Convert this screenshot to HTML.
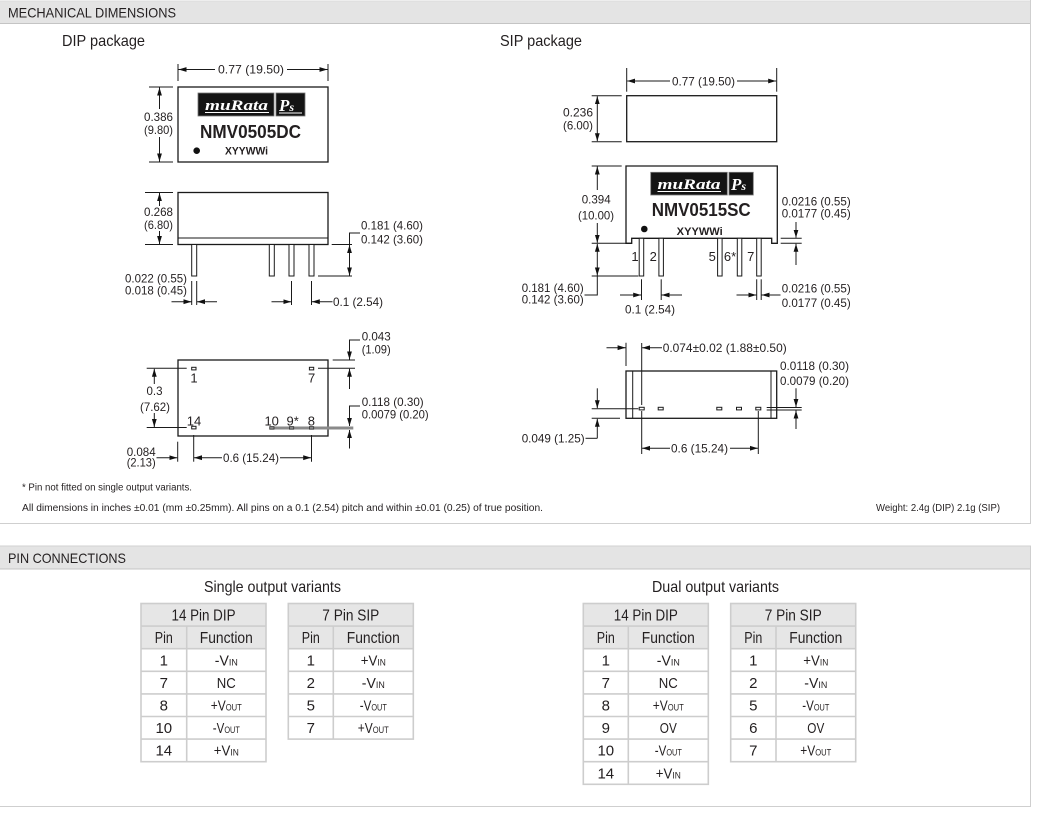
<!DOCTYPE html>
<html><head><meta charset="utf-8"><style>
html,body{margin:0;padding:0;background:#fff;}
svg{display:block;}
text{font-family:"Liberation Sans",Arial,sans-serif;fill:#231f20;}
</style></head><body>
<svg width="1053" height="815" viewBox="0 0 1053 815" xmlns="http://www.w3.org/2000/svg">
<defs>
<marker id="ar" viewBox="0 0 8 6" markerWidth="8" markerHeight="6" refX="8" refY="3" orient="auto" markerUnits="userSpaceOnUse"><path d="M0,0.6 L8,3 L0,5.4z" fill="#111" stroke="none"/></marker>
</defs>

<!-- SECTION 1 frame -->
<rect x="0" y="1" width="1030.5" height="22.5" fill="#e4e4e4"/>
<line x1="0" y1="23.5" x2="1031" y2="23.5" stroke="#c4c4c4" stroke-width="1"/>
<line x1="0" y1="1" x2="1031" y2="1" stroke="#dcdcdc" stroke-width="1"/>
<line x1="1030.5" y1="0" x2="1030.5" y2="524" stroke="#cfcfcf" stroke-width="1"/>
<line x1="0" y1="523.5" x2="1031" y2="523.5" stroke="#cfcfcf" stroke-width="1"/>
<text x="8" y="17.5" font-size="14" textLength="168" lengthAdjust="spacingAndGlyphs">MECHANICAL DIMENSIONS</text>
<text x="62" y="46" font-size="16" textLength="83" lengthAdjust="spacingAndGlyphs">DIP package</text>
<text x="500" y="46" font-size="16" textLength="82" lengthAdjust="spacingAndGlyphs">SIP package</text>

<!-- SECTION 2 frame -->
<rect x="0" y="546" width="1030.5" height="23" fill="#e4e4e4"/>
<line x1="0" y1="546" x2="1031" y2="546" stroke="#d2d2d2" stroke-width="1"/>
<line x1="0" y1="569" x2="1031" y2="569" stroke="#c4c4c4" stroke-width="1"/>
<line x1="1030.5" y1="546" x2="1030.5" y2="806.5" stroke="#cfcfcf" stroke-width="1"/>
<line x1="0" y1="806.5" x2="1031" y2="806.5" stroke="#cfcfcf" stroke-width="1"/>
<text x="8" y="563" font-size="14" textLength="118" lengthAdjust="spacingAndGlyphs">PIN CONNECTIONS</text>
<text x="204" y="592" font-size="16" textLength="137" lengthAdjust="spacingAndGlyphs">Single output variants</text>
<text x="652" y="592" font-size="16" textLength="127" lengthAdjust="spacingAndGlyphs">Dual output variants</text>

<!-- ========== DRAWING LINES ========== -->
<g stroke="#1a1a1a" stroke-width="1" fill="none">
<!-- DIP top view -->
<rect x="178" y="87" width="150" height="75" stroke-width="1.3"/>
<line x1="178" y1="64" x2="178" y2="81"/>
<line x1="328" y1="64" x2="328" y2="81"/>
<line x1="215" y1="69.5" x2="178.5" y2="69.5" marker-end="url(#ar)"/>
<line x1="287" y1="69.5" x2="327.5" y2="69.5" marker-end="url(#ar)"/>
<line x1="149" y1="87" x2="173" y2="87"/>
<line x1="149" y1="162" x2="173" y2="162"/>
<line x1="159.5" y1="109" x2="159.5" y2="87.5" marker-end="url(#ar)"/>
<line x1="159.5" y1="137" x2="159.5" y2="161.5" marker-end="url(#ar)"/>

<!-- DIP side view -->
<rect x="178" y="192.5" width="150" height="52" stroke-width="1.3"/>
<line x1="178" y1="238" x2="328" y2="238"/>
<rect x="191.7" y="244.5" width="5" height="31.5" fill="#fff"/>
<rect x="269.3" y="244.5" width="5" height="31.5" fill="#fff"/>
<rect x="289" y="244.5" width="5" height="31.5" fill="#fff"/>
<rect x="309" y="244.5" width="5" height="31.5" fill="#fff"/>
<line x1="145" y1="192.5" x2="173" y2="192.5"/>
<line x1="145" y1="244.5" x2="173" y2="244.5"/>
<line x1="159.5" y1="206" x2="159.5" y2="193" marker-end="url(#ar)"/>
<line x1="159.5" y1="231" x2="159.5" y2="244" marker-end="url(#ar)"/>
<line x1="331.7" y1="244.5" x2="352" y2="244.5"/>
<line x1="318" y1="276" x2="352" y2="276"/>
<polyline points="360,233 349.5,233 349.5,244.5"/>
<line x1="349.5" y1="260" x2="349.5" y2="245" marker-end="url(#ar)"/>
<line x1="349.5" y1="260" x2="349.5" y2="275.5" marker-end="url(#ar)"/>
<line x1="191.7" y1="281" x2="191.7" y2="305"/>
<line x1="196.7" y1="281" x2="196.7" y2="305"/>
<line x1="171.5" y1="301.7" x2="191.5" y2="301.7" marker-end="url(#ar)"/>
<line x1="217" y1="301.7" x2="197" y2="301.7" marker-end="url(#ar)"/>
<line x1="291.5" y1="281" x2="291.5" y2="305"/>
<line x1="311.5" y1="281" x2="311.5" y2="305"/>
<line x1="271.5" y1="301.7" x2="291.3" y2="301.7" marker-end="url(#ar)"/>
<line x1="332.5" y1="301.7" x2="311.8" y2="301.7" marker-end="url(#ar)"/>

<!-- DIP bottom view -->
<rect x="178" y="360" width="150" height="76" stroke-width="1.3"/>
<line x1="146.7" y1="368.3" x2="186.7" y2="368.3"/>
<line x1="146.7" y1="427.5" x2="186.7" y2="427.5"/>
<line x1="154.3" y1="384" x2="154.3" y2="368.8" marker-end="url(#ar)"/>
<line x1="154.3" y1="413" x2="154.3" y2="427" marker-end="url(#ar)"/>
<line x1="332.7" y1="360" x2="355" y2="360"/>
<line x1="318" y1="368.3" x2="355" y2="368.3"/>
<polyline points="360,340 349.5,340 349.5,345"/>
<line x1="349.5" y1="344" x2="349.5" y2="359.5" marker-end="url(#ar)"/>
<line x1="349.5" y1="389" x2="349.5" y2="368.8" marker-end="url(#ar)"/>
<polyline points="360,406 349.5,406 349.5,410"/>
<line x1="349.5" y1="409" x2="349.5" y2="426" marker-end="url(#ar)"/>
<line x1="349.5" y1="448.5" x2="349.5" y2="430" marker-end="url(#ar)"/>
<line x1="177.7" y1="441.7" x2="177.7" y2="461.7"/>
<line x1="156.5" y1="457.7" x2="177.3" y2="457.7" marker-end="url(#ar)"/>
<line x1="193.7" y1="435" x2="193.7" y2="461.7"/>
<line x1="311.5" y1="435" x2="311.5" y2="461.7"/>
<line x1="222" y1="457.7" x2="194" y2="457.7" marker-end="url(#ar)"/>
<line x1="280" y1="457.7" x2="311.2" y2="457.7" marker-end="url(#ar)"/>
<rect x="191.7" y="367.3" width="4.3" height="2.6" fill="#fff"/>
<rect x="309.4" y="367.3" width="4.3" height="2.6" fill="#fff"/>
<rect x="191.7" y="426.3" width="4.3" height="2.6" fill="#fff"/>

<!-- SIP top view -->
<rect x="626.7" y="95.7" width="150" height="46" stroke-width="1.3"/>
<line x1="626.7" y1="68" x2="626.7" y2="91.7"/>
<line x1="776.7" y1="68" x2="776.7" y2="91.7"/>
<line x1="670" y1="81" x2="627.2" y2="81" marker-end="url(#ar)"/>
<line x1="737" y1="81" x2="776.2" y2="81" marker-end="url(#ar)"/>
<line x1="591.7" y1="95.7" x2="621.7" y2="95.7"/>
<line x1="591.7" y1="141.7" x2="621.7" y2="141.7"/>
<line x1="597.3" y1="118" x2="597.3" y2="96.2" marker-end="url(#ar)"/>
<line x1="597.3" y1="118" x2="597.3" y2="141.2" marker-end="url(#ar)"/>

<!-- SIP front view -->
<path d="M626,166 L777.3,166 L777.3,243.3 L771.7,243.3 L771.7,238.3 L631.7,238.3 L631.7,243.3 L626,243.3 Z" stroke-width="1.3"/>
<rect x="639.2" y="238.3" width="4.5" height="37.7" fill="#fff"/>
<rect x="658.9" y="238.3" width="4.5" height="37.7" fill="#fff"/>
<rect x="717.6" y="238.3" width="4.5" height="37.7" fill="#fff"/>
<rect x="737.3" y="238.3" width="4.5" height="37.7" fill="#fff"/>
<rect x="756.7" y="238.3" width="4.5" height="37.7" fill="#fff"/>
<line x1="591.7" y1="166" x2="621.7" y2="166"/>
<line x1="591.7" y1="243.3" x2="631.7" y2="243.3"/>
<line x1="591.7" y1="276" x2="638.3" y2="276"/>
<line x1="597.3" y1="190" x2="597.3" y2="166.5" marker-end="url(#ar)"/>
<line x1="597.3" y1="223" x2="597.3" y2="242.8" marker-end="url(#ar)"/>
<line x1="597.3" y1="260" x2="597.3" y2="243.8" marker-end="url(#ar)"/>
<line x1="597.3" y1="260" x2="597.3" y2="275.5" marker-end="url(#ar)"/>
<polyline points="597.3,276 597.3,295 584.5,295"/>
<line x1="780.7" y1="238.3" x2="801.7" y2="238.3"/>
<line x1="780.7" y1="243.3" x2="801.7" y2="243.3"/>
<line x1="796" y1="222" x2="796" y2="237.8" marker-end="url(#ar)"/>
<line x1="796" y1="265" x2="796" y2="243.8" marker-end="url(#ar)"/>
<line x1="641.5" y1="279.3" x2="641.5" y2="300"/>
<line x1="661.2" y1="279.3" x2="661.2" y2="300"/>
<line x1="620" y1="295" x2="641.2" y2="295" marker-end="url(#ar)"/>
<line x1="682" y1="295" x2="661.5" y2="295" marker-end="url(#ar)"/>
<line x1="756.7" y1="279.3" x2="756.7" y2="300"/>
<line x1="761.2" y1="279.3" x2="761.2" y2="300"/>
<line x1="736.5" y1="295" x2="756.4" y2="295" marker-end="url(#ar)"/>
<line x1="780.5" y1="295" x2="761.5" y2="295" marker-end="url(#ar)"/>

<!-- SIP bottom view -->
<rect x="626" y="371" width="150.7" height="47.3" stroke-width="1.3"/>
<line x1="632.7" y1="371" x2="632.7" y2="418.3"/>
<line x1="771" y1="371" x2="771" y2="418.3"/>
<rect x="639.2" y="407.3" width="5" height="2.6" fill="#fff"/>
<rect x="658.2" y="407.3" width="5" height="2.6" fill="#fff"/>
<rect x="716.8" y="407.3" width="5" height="2.6" fill="#fff"/>
<rect x="736.5" y="407.3" width="5" height="2.6" fill="#fff"/>
<rect x="755.8" y="407.3" width="5" height="2.6" fill="#fff"/>
<line x1="626" y1="342.7" x2="626" y2="366"/>
<line x1="606.5" y1="347.7" x2="625.6" y2="347.7" marker-end="url(#ar)"/>
<line x1="641.7" y1="343" x2="641.7" y2="405"/>
<line x1="662" y1="347.7" x2="642.1" y2="347.7" marker-end="url(#ar)"/>
<line x1="766.7" y1="407.5" x2="801.7" y2="407.5"/>
<line x1="766.7" y1="410" x2="801.7" y2="410"/>
<line x1="796" y1="388.3" x2="796" y2="407" marker-end="url(#ar)"/>
<line x1="796" y1="429" x2="796" y2="410.5" marker-end="url(#ar)"/>
<line x1="591.7" y1="408.7" x2="638.3" y2="408.7"/>
<line x1="591.7" y1="418.3" x2="620" y2="418.3"/>
<line x1="597.3" y1="388.3" x2="597.3" y2="408.2" marker-end="url(#ar)"/>
<line x1="597.3" y1="438.3" x2="597.3" y2="418.8" marker-end="url(#ar)"/>
<line x1="585.5" y1="438.3" x2="597.3" y2="438.3"/>
<line x1="641.7" y1="411" x2="641.7" y2="454"/>
<line x1="758.3" y1="411" x2="758.3" y2="454"/>
<line x1="670" y1="448.3" x2="642.1" y2="448.3" marker-end="url(#ar)"/>
<line x1="730" y1="448.3" x2="757.9" y2="448.3" marker-end="url(#ar)"/>
</g>

<!-- gray pin row line DIP bottom -->
<line x1="270" y1="428" x2="353.3" y2="428" stroke="#8a8a8a" stroke-width="3"/>
<rect x="269.7" y="426.6" width="4.3" height="2.6" fill="none" stroke="#333" stroke-width="0.8"/>
<rect x="289.4" y="426.6" width="4.3" height="2.6" fill="none" stroke="#333" stroke-width="0.8"/>
<rect x="309.4" y="426.6" width="4.3" height="2.6" fill="none" stroke="#333" stroke-width="0.8"/>

<!-- Logos -->
<rect x="198" y="93" width="76" height="23" fill="#141414" stroke="#777" stroke-width="0.8"/>
<rect x="276" y="93" width="29" height="23" fill="#141414" stroke="#777" stroke-width="0.8"/>
<text x="205" y="110" font-size="15" textLength="63" lengthAdjust="spacingAndGlyphs" style="font-family:'Liberation Serif',serif;font-style:italic;font-weight:bold;fill:#fff">muRata</text>
<line x1="205" y1="112.5" x2="269" y2="112.5" stroke="#fff" stroke-width="1"/>
<text x="279" y="111" font-size="17" style="font-family:'Liberation Serif',serif;font-style:italic;font-weight:bold;fill:#fff">P<tspan font-size="12">s</tspan></text>
<line x1="279" y1="113" x2="302" y2="113" stroke="#fff" stroke-width="1"/>

<rect x="650.7" y="172.3" width="76.6" height="22.7" fill="#141414" stroke="#777" stroke-width="0.8"/>
<rect x="729" y="172.3" width="24.3" height="22.7" fill="#141414" stroke="#777" stroke-width="0.8"/>
<text x="657.5" y="189" font-size="15" textLength="63" lengthAdjust="spacingAndGlyphs" style="font-family:'Liberation Serif',serif;font-style:italic;font-weight:bold;fill:#fff">muRata</text>
<line x1="657.5" y1="191.5" x2="721" y2="191.5" stroke="#fff" stroke-width="1"/>
<text x="731" y="190" font-size="17" style="font-family:'Liberation Serif',serif;font-style:italic;font-weight:bold;fill:#fff">P<tspan font-size="12">s</tspan></text>

<!-- Part numbers -->
<text x="200" y="138" font-size="18" font-weight="bold" textLength="101" lengthAdjust="spacingAndGlyphs">NMV0505DC</text>
<circle cx="196.7" cy="150.7" r="3.3" fill="#111"/>
<text x="225" y="154.5" font-size="11" font-weight="bold" textLength="43" lengthAdjust="spacingAndGlyphs">XYYWWi</text>
<text x="651.7" y="216" font-size="18" font-weight="bold" textLength="99" lengthAdjust="spacingAndGlyphs">NMV0515SC</text>
<circle cx="644.3" cy="229" r="3.3" fill="#111"/>
<text x="676.7" y="235" font-size="11" font-weight="bold" textLength="46" lengthAdjust="spacingAndGlyphs">XYYWWi</text>

<!-- Dimension labels -->
<g font-size="12">
<text x="218" y="73.6" textLength="66" lengthAdjust="spacingAndGlyphs">0.77 (19.50)</text>
<text x="144" y="121" textLength="29" lengthAdjust="spacingAndGlyphs">0.386</text>
<text x="144" y="134" textLength="29" lengthAdjust="spacingAndGlyphs">(9.80)</text>
<text x="144" y="216" textLength="29" lengthAdjust="spacingAndGlyphs">0.268</text>
<text x="144" y="229" textLength="29" lengthAdjust="spacingAndGlyphs">(6.80)</text>
<text x="361" y="229.3" textLength="62" lengthAdjust="spacingAndGlyphs">0.181 (4.60)</text>
<text x="361" y="243.6" textLength="62" lengthAdjust="spacingAndGlyphs">0.142 (3.60)</text>
<text x="125" y="282.3" textLength="62" lengthAdjust="spacingAndGlyphs">0.022 (0.55)</text>
<text x="125" y="294.3" textLength="62" lengthAdjust="spacingAndGlyphs">0.018 (0.45)</text>
<text x="333" y="306" textLength="50" lengthAdjust="spacingAndGlyphs">0.1 (2.54)</text>

<text x="146.5" y="395" textLength="16" lengthAdjust="spacingAndGlyphs">0.3</text>
<text x="140" y="411" textLength="30" lengthAdjust="spacingAndGlyphs">(7.62)</text>
<text x="361.7" y="340.3" textLength="29" lengthAdjust="spacingAndGlyphs">0.043</text>
<text x="361.7" y="353.3" textLength="29" lengthAdjust="spacingAndGlyphs">(1.09)</text>
<text x="361.7" y="406" textLength="62" lengthAdjust="spacingAndGlyphs">0.118 (0.30)</text>
<text x="361.7" y="418.6" textLength="67" lengthAdjust="spacingAndGlyphs">0.0079 (0.20)</text>
<text x="126.7" y="456" textLength="29" lengthAdjust="spacingAndGlyphs">0.084</text>
<text x="126.7" y="466.6" textLength="29" lengthAdjust="spacingAndGlyphs">(2.13)</text>
<text x="223" y="462" textLength="56" lengthAdjust="spacingAndGlyphs">0.6 (15.24)</text>

<text x="672" y="85.3" textLength="63" lengthAdjust="spacingAndGlyphs">0.77 (19.50)</text>
<text x="563" y="116.6" textLength="30" lengthAdjust="spacingAndGlyphs">0.236</text>
<text x="563" y="129.3" textLength="30" lengthAdjust="spacingAndGlyphs">(6.00)</text>
<text x="581.7" y="203.6" textLength="29" lengthAdjust="spacingAndGlyphs">0.394</text>
<text x="578" y="219.3" textLength="36" lengthAdjust="spacingAndGlyphs">(10.00)</text>
<text x="781.7" y="205.3" textLength="69" lengthAdjust="spacingAndGlyphs">0.0216 (0.55)</text>
<text x="781.7" y="217.6" textLength="69" lengthAdjust="spacingAndGlyphs">0.0177 (0.45)</text>
<text x="521.7" y="292" textLength="62" lengthAdjust="spacingAndGlyphs">0.181 (4.60)</text>
<text x="521.7" y="303.6" textLength="62" lengthAdjust="spacingAndGlyphs">0.142 (3.60)</text>
<text x="625" y="313.6" textLength="50" lengthAdjust="spacingAndGlyphs">0.1 (2.54)</text>
<text x="781.7" y="292.6" textLength="69" lengthAdjust="spacingAndGlyphs">0.0216 (0.55)</text>
<text x="781.7" y="307" textLength="69" lengthAdjust="spacingAndGlyphs">0.0177 (0.45)</text>
<text x="662.7" y="352" textLength="124" lengthAdjust="spacingAndGlyphs">0.074±0.02 (1.88±0.50)</text>
<text x="780" y="370" textLength="69" lengthAdjust="spacingAndGlyphs">0.0118 (0.30)</text>
<text x="780" y="385" textLength="69" lengthAdjust="spacingAndGlyphs">0.0079 (0.20)</text>
<text x="521.7" y="442.6" textLength="63" lengthAdjust="spacingAndGlyphs">0.049 (1.25)</text>
<text x="671" y="452.6" textLength="57" lengthAdjust="spacingAndGlyphs">0.6 (15.24)</text>
</g>

<!-- pin numbers -->
<g font-size="13" text-anchor="middle">
<text x="194" y="382.3">1</text>
<text x="311.6" y="382.3">7</text>
<text x="194" y="425.5">14</text>
<text x="271.7" y="425.5">10</text>
<text x="292.7" y="425.5">9*</text>
<text x="311.4" y="425.5">8</text>
<text x="635" y="261">1</text>
<text x="653.3" y="261">2</text>
<text x="712.3" y="261">5</text>
<text x="730" y="261">6*</text>
<text x="750.7" y="261">7</text>
</g>

<!-- notes -->
<text x="22" y="490.5" font-size="10" textLength="170" lengthAdjust="spacingAndGlyphs">* Pin not fitted on single output variants.</text>
<text x="22" y="511" font-size="10" textLength="521" lengthAdjust="spacingAndGlyphs">All dimensions in inches ±0.01 (mm ±0.25mm). All pins on a 0.1 (2.54) pitch and within ±0.01 (0.25) of true position.</text>
<text x="876" y="511" font-size="10" textLength="124" lengthAdjust="spacingAndGlyphs">Weight: 2.4g (DIP) 2.1g (SIP)</text>

<!-- ========== TABLES ========== -->
<g fill="#e6e6e6" stroke="none">
<rect x="141" y="603.5" width="125" height="45.2"/>
<rect x="288.3" y="603.5" width="125" height="45.2"/>
<rect x="583.3" y="603.5" width="125" height="45.2"/>
<rect x="730.7" y="603.5" width="125" height="45.2"/>
</g>
<g stroke="#cdcdcd" stroke-width="1.6" fill="none">
<!-- T1 -->
<rect x="141" y="603.5" width="125" height="158.2"/>
<path d="M141,626.1H266M141,648.7H266M141,671.3H266M141,693.9H266M141,716.5H266M141,739.1H266M186.7,626.1V761.7"/>
<!-- T2 -->
<rect x="288.3" y="603.5" width="125" height="135.6"/>
<path d="M288.3,626.1H413.3M288.3,648.7H413.3M288.3,671.3H413.3M288.3,693.9H413.3M288.3,716.5H413.3M333.3,626.1V739.1"/>
<!-- T3 -->
<rect x="583.3" y="603.5" width="125" height="180.8"/>
<path d="M583.3,626.1H708.3M583.3,648.7H708.3M583.3,671.3H708.3M583.3,693.9H708.3M583.3,716.5H708.3M583.3,739.1H708.3M583.3,761.7H708.3M628.3,626.1V784.3"/>
<!-- T4 -->
<rect x="730.7" y="603.5" width="125" height="158.2"/>
<path d="M730.7,626.1H855.7M730.7,648.7H855.7M730.7,671.3H855.7M730.7,693.9H855.7M730.7,716.5H855.7M730.7,739.1H855.7M776,626.1V761.7"/>
</g>

<g text-anchor="middle" font-size="16">
<text x="203.5" y="620.3" textLength="64" lengthAdjust="spacingAndGlyphs">14 Pin DIP</text>
<text x="163.8" y="643" textLength="18" lengthAdjust="spacingAndGlyphs">Pin</text>
<text x="226.3" y="643" textLength="53" lengthAdjust="spacingAndGlyphs">Function</text>
<text x="350.8" y="620.3" textLength="57" lengthAdjust="spacingAndGlyphs">7 Pin SIP</text>
<text x="310.8" y="643" textLength="18" lengthAdjust="spacingAndGlyphs">Pin</text>
<text x="373.3" y="643" textLength="53" lengthAdjust="spacingAndGlyphs">Function</text>
<text x="645.8" y="620.3" textLength="64" lengthAdjust="spacingAndGlyphs">14 Pin DIP</text>
<text x="605.8" y="643" textLength="18" lengthAdjust="spacingAndGlyphs">Pin</text>
<text x="668.3" y="643" textLength="53" lengthAdjust="spacingAndGlyphs">Function</text>
<text x="793.2" y="620.3" textLength="57" lengthAdjust="spacingAndGlyphs">7 Pin SIP</text>
<text x="753.3" y="643" textLength="18" lengthAdjust="spacingAndGlyphs">Pin</text>
<text x="815.8" y="643" textLength="53" lengthAdjust="spacingAndGlyphs">Function</text>
</g>

<g text-anchor="middle" font-size="15">
<!-- T1 -->
<text x="163.8" y="665.3">1</text><text x="226.3" y="665.3" textLength="23" lengthAdjust="spacingAndGlyphs">-V<tspan font-size="9.5">IN</tspan></text>
<text x="163.8" y="687.9">7</text><text x="226.3" y="687.9" textLength="19" lengthAdjust="spacingAndGlyphs">NC</text>
<text x="163.8" y="710.5">8</text><text x="226.3" y="710.5" textLength="31" lengthAdjust="spacingAndGlyphs">+V<tspan font-size="9.5">OUT</tspan></text>
<text x="163.8" y="733.1">10</text><text x="226.3" y="733.1" textLength="27" lengthAdjust="spacingAndGlyphs">-V<tspan font-size="9.5">OUT</tspan></text>
<text x="163.8" y="755.7">14</text><text x="226.3" y="755.7" textLength="25" lengthAdjust="spacingAndGlyphs">+V<tspan font-size="9.5">IN</tspan></text>
<!-- T2 -->
<text x="310.8" y="665.3">1</text><text x="373.3" y="665.3" textLength="25" lengthAdjust="spacingAndGlyphs">+V<tspan font-size="9.5">IN</tspan></text>
<text x="310.8" y="687.9">2</text><text x="373.3" y="687.9" textLength="23" lengthAdjust="spacingAndGlyphs">-V<tspan font-size="9.5">IN</tspan></text>
<text x="310.8" y="710.5">5</text><text x="373.3" y="710.5" textLength="27" lengthAdjust="spacingAndGlyphs">-V<tspan font-size="9.5">OUT</tspan></text>
<text x="310.8" y="733.1">7</text><text x="373.3" y="733.1" textLength="31" lengthAdjust="spacingAndGlyphs">+V<tspan font-size="9.5">OUT</tspan></text>
<!-- T3 -->
<text x="605.8" y="665.3">1</text><text x="668.3" y="665.3" textLength="23" lengthAdjust="spacingAndGlyphs">-V<tspan font-size="9.5">IN</tspan></text>
<text x="605.8" y="687.9">7</text><text x="668.3" y="687.9" textLength="19" lengthAdjust="spacingAndGlyphs">NC</text>
<text x="605.8" y="710.5">8</text><text x="668.3" y="710.5" textLength="31" lengthAdjust="spacingAndGlyphs">+V<tspan font-size="9.5">OUT</tspan></text>
<text x="605.8" y="733.1">9</text><text x="668.3" y="733.1" textLength="17" lengthAdjust="spacingAndGlyphs">OV</text>
<text x="605.8" y="755.7">10</text><text x="668.3" y="755.7" textLength="27" lengthAdjust="spacingAndGlyphs">-V<tspan font-size="9.5">OUT</tspan></text>
<text x="605.8" y="778.3">14</text><text x="668.3" y="778.3" textLength="25" lengthAdjust="spacingAndGlyphs">+V<tspan font-size="9.5">IN</tspan></text>
<!-- T4 -->
<text x="753.3" y="665.3">1</text><text x="815.8" y="665.3" textLength="25" lengthAdjust="spacingAndGlyphs">+V<tspan font-size="9.5">IN</tspan></text>
<text x="753.3" y="687.9">2</text><text x="815.8" y="687.9" textLength="23" lengthAdjust="spacingAndGlyphs">-V<tspan font-size="9.5">IN</tspan></text>
<text x="753.3" y="710.5">5</text><text x="815.8" y="710.5" textLength="27" lengthAdjust="spacingAndGlyphs">-V<tspan font-size="9.5">OUT</tspan></text>
<text x="753.3" y="733.1">6</text><text x="815.8" y="733.1" textLength="17" lengthAdjust="spacingAndGlyphs">OV</text>
<text x="753.3" y="755.7">7</text><text x="815.8" y="755.7" textLength="31" lengthAdjust="spacingAndGlyphs">+V<tspan font-size="9.5">OUT</tspan></text>
</g>
</svg>
</body></html>
